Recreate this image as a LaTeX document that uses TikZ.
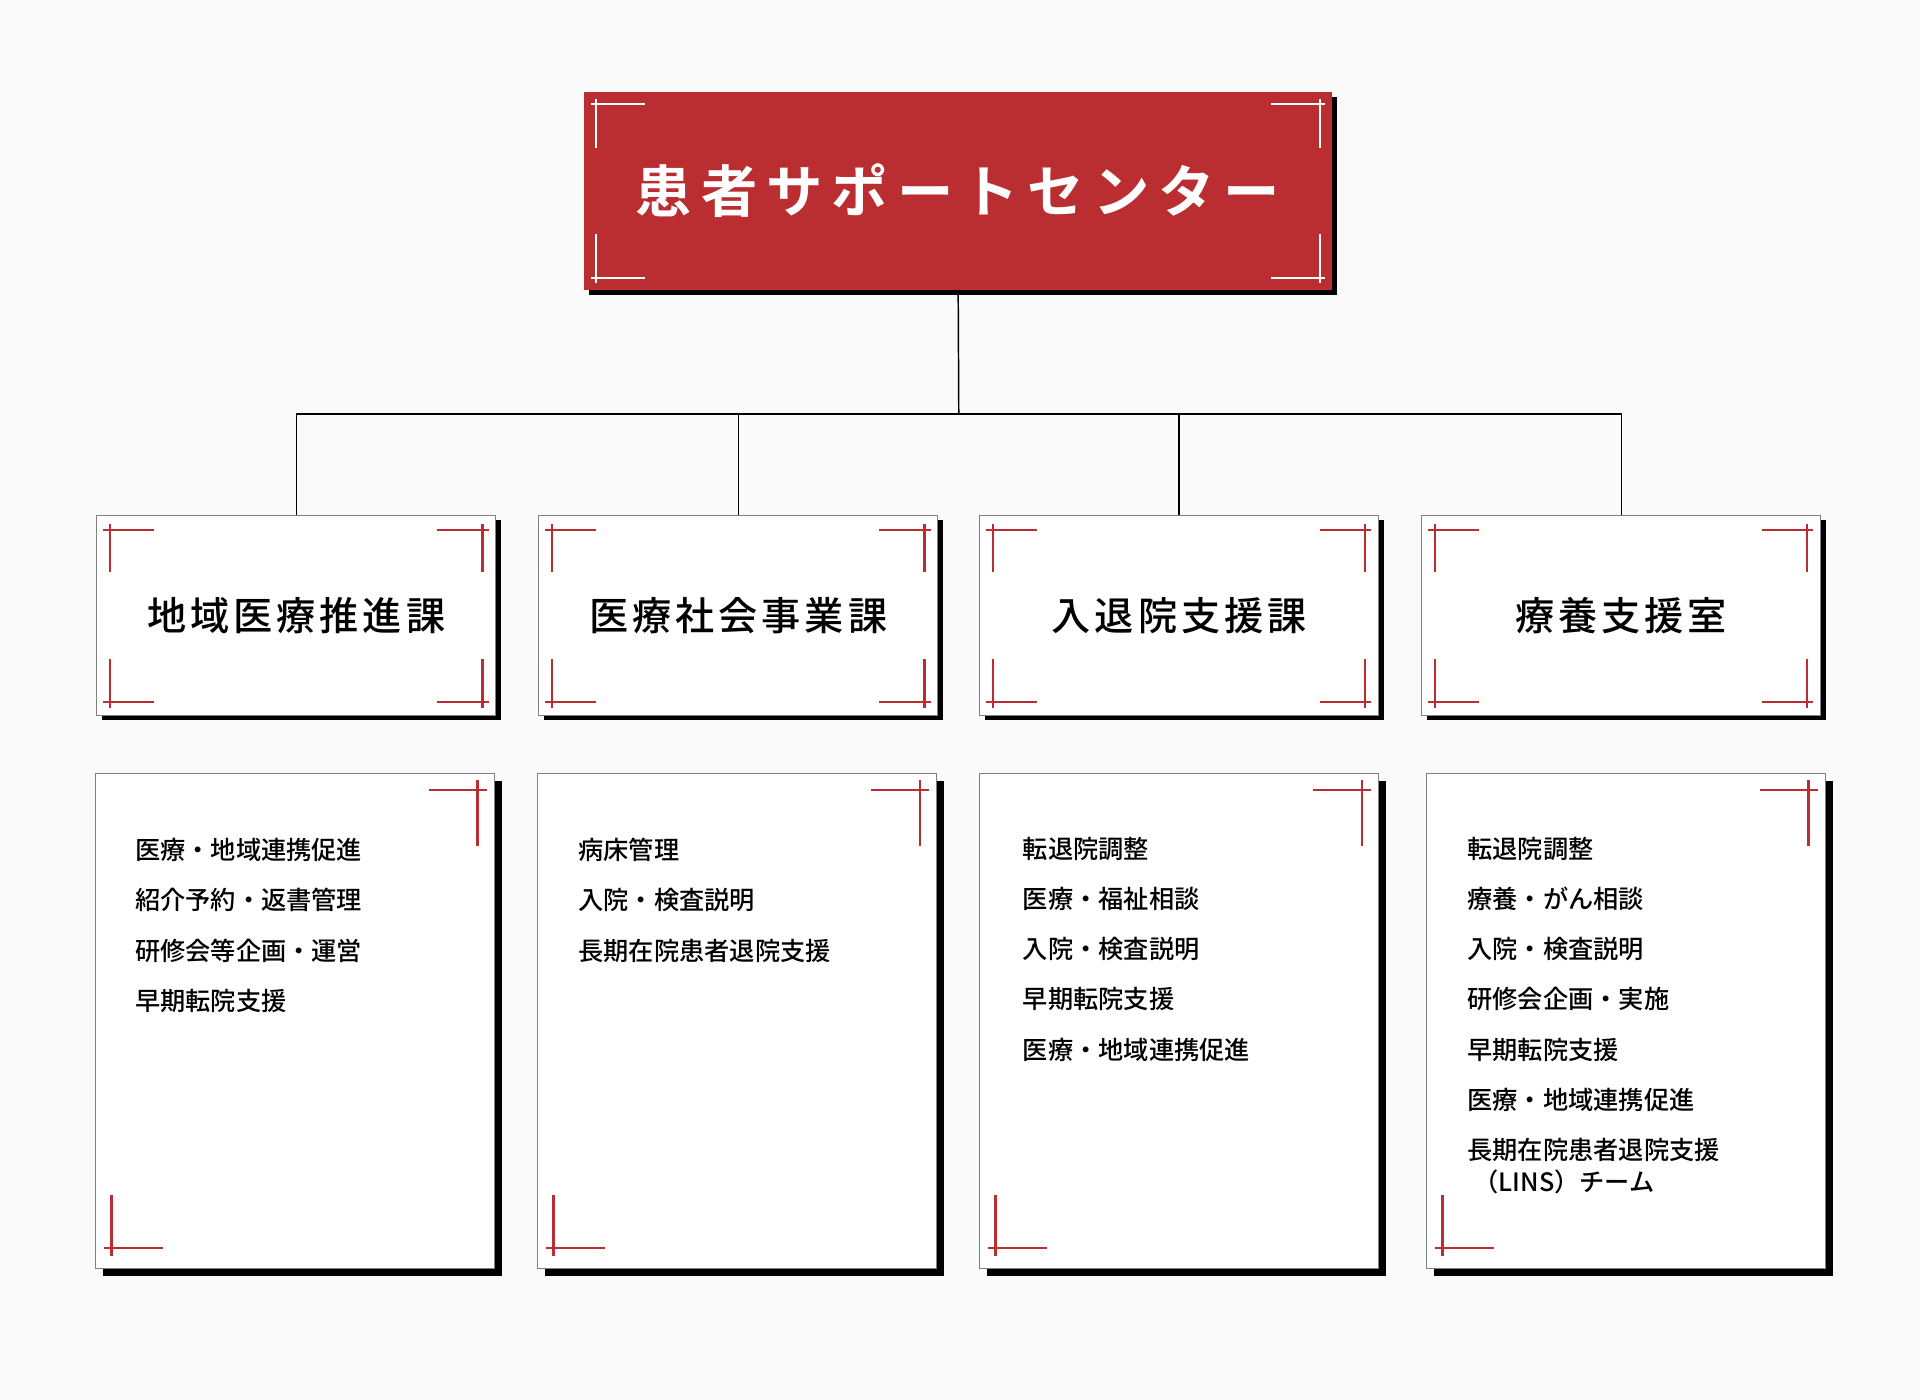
\documentclass[tikz,border=0pt]{standalone}
\usepackage{fontspec}
\newfontfamily\jptitle[LetterSpace=16]{Noto Sans CJK JP Bold}
\newfontfamily\jphead[LetterSpace=10]{Noto Sans CJK JP Medium}
\newfontfamily\jplist{Noto Sans CJK JP Medium}
\usetikzlibrary{positioning,shadows}
\definecolor{hred}{RGB}{186,45,48}
\definecolor{paper}{RGB}{250,250,250}
\tikzset{
  x=0.5pt, y=-0.5pt,
  titlebox/.style = {fill=hred, minimum width=305.5pt, minimum height=81pt,
    inner sep=0pt, text=white, font=\jptitle\fontsize{23}{26}\selectfont,
    drop shadow={shadow xshift=2pt, shadow yshift=-2pt, fill=black, opacity=1}},
  headbox/.style = {draw=gray, fill=white, line width=0.4pt, minimum width=163pt,
    minimum height=81.5pt, inner sep=0pt, font=\jphead\fontsize{16}{18}\selectfont,
    drop shadow={shadow xshift=2pt, shadow yshift=-2pt, fill=black, opacity=1}},
  listbox/.style = {draw=gray, fill=white, line width=0.4pt, minimum width=163pt,
    minimum height=202pt, inner sep=0pt,
    drop shadow={shadow xshift=3pt, shadow yshift=-3pt, fill=black, opacity=1}},
  listitem/.style = {anchor=base west, inner sep=0pt, font=\jplist\fontsize{10.3}{14}\selectfont},
  link/.style = {line width=0.6pt},
  tick/.style = {line width=0.9pt}
}
\begin{document}
\begin{tikzpicture}
  \useasboundingbox[fill=paper] (0,0) rectangle (1568,1143);
  % Top box
  \node[titlebox] (top) at (782.5,156) {患者サポートセンター};
  \foreach \cx/\cy/\dx/\dy in {487/85/1/1, 1078/85/-1/1, 487/227/1/-1, 1078/227/-1/-1}{
    \draw[white, tick] (\cx-4*\dx,\cy) -- ++(44*\dx,0);
    \draw[white, tick] (\cx,\cy-4*\dy) -- ++(0,40*\dy);
  }
  % Sections
  \foreach \i/\xc/\head in {1/242/地域医療推進課, 2/603/医療社会事業課, 3/963/入退院支援課, 4/1324/療養支援室}{
    \node[headbox] (head\i) at (\xc,502.5) {\head};
    \draw[hred, tick] (\xc-158,433) -- ++(42,0);
    \draw[hred, tick] (\xc-152,428) -- ++(0,39);
    \draw[hred, tick] (\xc+115,433) -- ++(42,0);
    \draw[hred, tick] (\xc+152,428) -- ++(0,39);
    \draw[hred, tick] (\xc-158,573) -- ++(42,0);
    \draw[hred, tick] (\xc-152,538) -- ++(0,40);
    \draw[hred, tick] (\xc+115,573) -- ++(42,0);
    \draw[hred, tick] (\xc+152,538) -- ++(0,40);
  }
  % Connectors
  \coordinate (split) at (783,338);
  \draw[link] (top.south) -- (split);
  \draw[link] (head1.north) |- (split) -| (head4.north);
  \draw[link] (head2.north) -- (head2.north |- split);
  \draw[link] (head3.north) -- (head3.north |- split);
  % Lists
  \foreach \i/\xc in {1/241, 2/602, 3/963, 4/1328}{
    \node[listbox] (list\i) at (\xc,834) {};
    \draw[hred, tick] (\xc+109,645) -- ++(48,0);
    \draw[hred, tick] (\xc+149,637) -- ++(0,54);
    \draw[hred, tick] (\xc-156,1019) -- ++(48,0);
    \draw[hred, tick] (\xc-150,976) -- ++(0,50);
  }
  \foreach \t [count=\k] in {医療・地域連携促進, 紹介予約・返書管理, 研修会等企画・運営, 早期転院支援}
    \node[listitem] (a\k) at (110,702+41*\k-41) {\t};
  \foreach \t [count=\k] in {病床管理, 入院・検査説明, 長期在院患者退院支援}
    \node[listitem] (b\k) at (472,702+41*\k-41) {\t};
  \foreach \t [count=\k] in {転退院調整, 医療・福祉相談, 入院・検査説明, 早期転院支援, 医療・地域連携促進}
    \node[listitem] (c\k) at (835,701+41*\k-41) {\t};
  \foreach \t [count=\k] in {転退院調整, 療養・がん相談, 入院・検査説明, 研修会企画・実施, 早期転院支援, 医療・地域連携促進, 長期在院患者退院支援}
    \node[listitem] (d\k) at (1198,701+41*\k-41) {\t};
  \node[listitem] (d8) at (1203,973) {（LINS）チーム};
\end{tikzpicture}
\end{document}
